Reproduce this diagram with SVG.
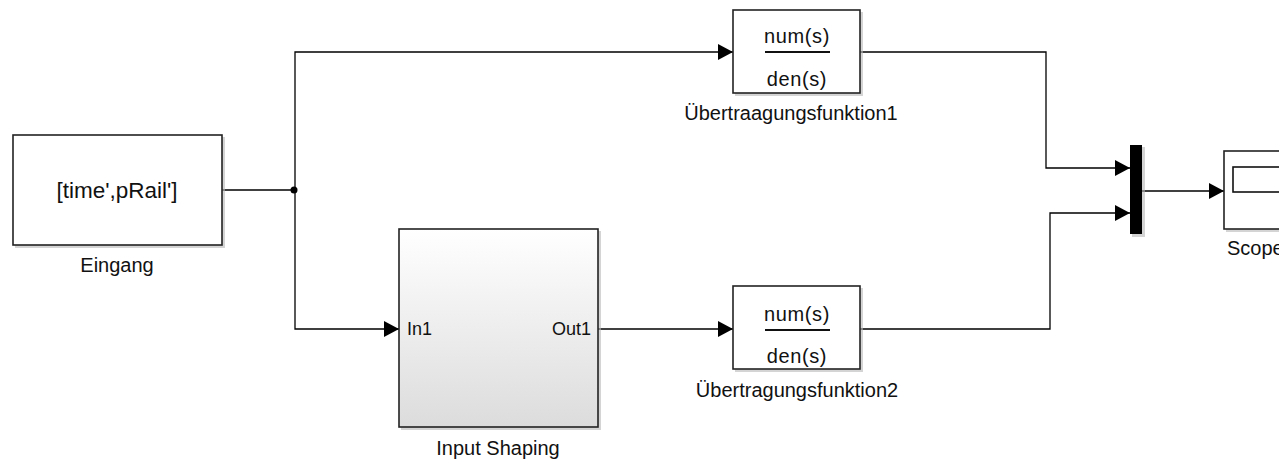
<svg xmlns="http://www.w3.org/2000/svg" width="1279" height="459" viewBox="0 0 1279 459">
  <style>
    .blk { fill: #ffffff; stroke: #222222; stroke-width: 1.6; }
    .shadow { fill: #b8b8b8; opacity: 0.6; }
    .wire { fill: none; stroke: #000000; stroke-width: 1.3; }
    .lbl { font-family: "Liberation Sans", Arial, sans-serif; font-size: 20px; fill: #111111; text-anchor: middle; }
    .txt { font-family: "Liberation Sans", Arial, sans-serif; font-size: 20px; fill: #111111; text-anchor: middle; }
    .port { font-family: "Liberation Sans", Arial, sans-serif; font-size: 18px; fill: #111111; }
  </style>
  <defs>
    <marker id="arrow" markerWidth="16" markerHeight="16" refX="15" refY="8" orient="auto" markerUnits="userSpaceOnUse">
      <path d="M0,0 L15,8 L0,16 Z" fill="#000000"/>
    </marker>
    <linearGradient id="subsys" x1="0" y1="0" x2="0" y2="1">
      <stop offset="0" stop-color="#ffffff"/>
      <stop offset="1" stop-color="#dcdcdc"/>
    </linearGradient>
  </defs>

  <rect width="1279" height="459" fill="#ffffff"/>

  <!-- connectors -->
  <g id="connectors">
    <path class="wire" d="M222,190 H295"/>
    <path class="wire" d="M295,190 V52 H733" marker-end="url(#arrow)"/>
    <path class="wire" d="M295,190 V329 H399" marker-end="url(#arrow)"/>
    <path class="wire" d="M598,329 H733" marker-end="url(#arrow)"/>
    <path class="wire" d="M860,52 H1046 V168 H1130" marker-end="url(#arrow)"/>
    <path class="wire" d="M860,329 H1050 V213 H1130" marker-end="url(#arrow)"/>
    <path class="wire" d="M1142,191 H1224" marker-end="url(#arrow)"/>
    <circle cx="294" cy="190" r="3.5" fill="#000000"/>
  </g>

  <!-- source block -->
  <g id="eingang">
    <rect class="shadow" x="15" y="137" width="210" height="111"/>
    <rect class="blk" x="13" y="135" width="209" height="110"/>
    <text class="txt" x="117" y="198" style="font-size:22.5px">[time',pRail']</text>
    <text class="lbl" x="117" y="272">Eingang</text>
  </g>

  <!-- subsystem -->
  <g id="input-shaping">
    <rect class="shadow" x="401" y="231" width="200" height="199"/>
    <rect x="399" y="229" width="199" height="198" fill="url(#subsys)" stroke="#222222" stroke-width="1.6"/>
    <text class="port" x="407" y="335">In1</text>
    <text class="port" x="591" y="335" text-anchor="end">Out1</text>
    <text class="lbl" x="498" y="455">Input Shaping</text>
  </g>

  <!-- transfer function 1 -->
  <g id="tf1">
    <rect class="shadow" x="735" y="12" width="128" height="84"/>
    <rect class="blk" x="733" y="10" width="127" height="83"/>
    <text class="txt" x="797" y="43" letter-spacing="0.6">num(s)</text>
    <line x1="765" y1="52" x2="830" y2="52" stroke="#111111" stroke-width="2"/>
    <text class="txt" x="797" y="86" letter-spacing="0.6">den(s)</text>
    <text class="lbl" x="791" y="120">Übertraagungsfunktion1</text>
  </g>

  <!-- transfer function 2 -->
  <g id="tf2">
    <rect class="shadow" x="735" y="288" width="128" height="84"/>
    <rect class="blk" x="733" y="286" width="127" height="83"/>
    <text class="txt" x="797" y="321" letter-spacing="0.6">num(s)</text>
    <line x1="765" y1="330" x2="830" y2="330" stroke="#111111" stroke-width="2"/>
    <text class="txt" x="797" y="363" letter-spacing="0.6">den(s)</text>
    <text class="lbl" x="797" y="397">Übertragungsfunktion2</text>
  </g>

  <!-- mux -->
  <g id="mux">
    <rect class="shadow" x="1132" y="147" width="13" height="90"/>
    <rect x="1130" y="145" width="12" height="89" fill="#000000"/>
  </g>

  <!-- scope -->
  <g id="scope">
    <rect class="shadow" x="1226" y="153" width="60" height="79"/>
    <rect class="blk" x="1224" y="151" width="60" height="78"/>
    <rect x="1233" y="167" width="60" height="25" fill="#ffffff" stroke="#111111" stroke-width="1.6"/>
    <text class="lbl" x="1227" y="255" style="text-anchor:start">Scope</text>
  </g>
</svg>
